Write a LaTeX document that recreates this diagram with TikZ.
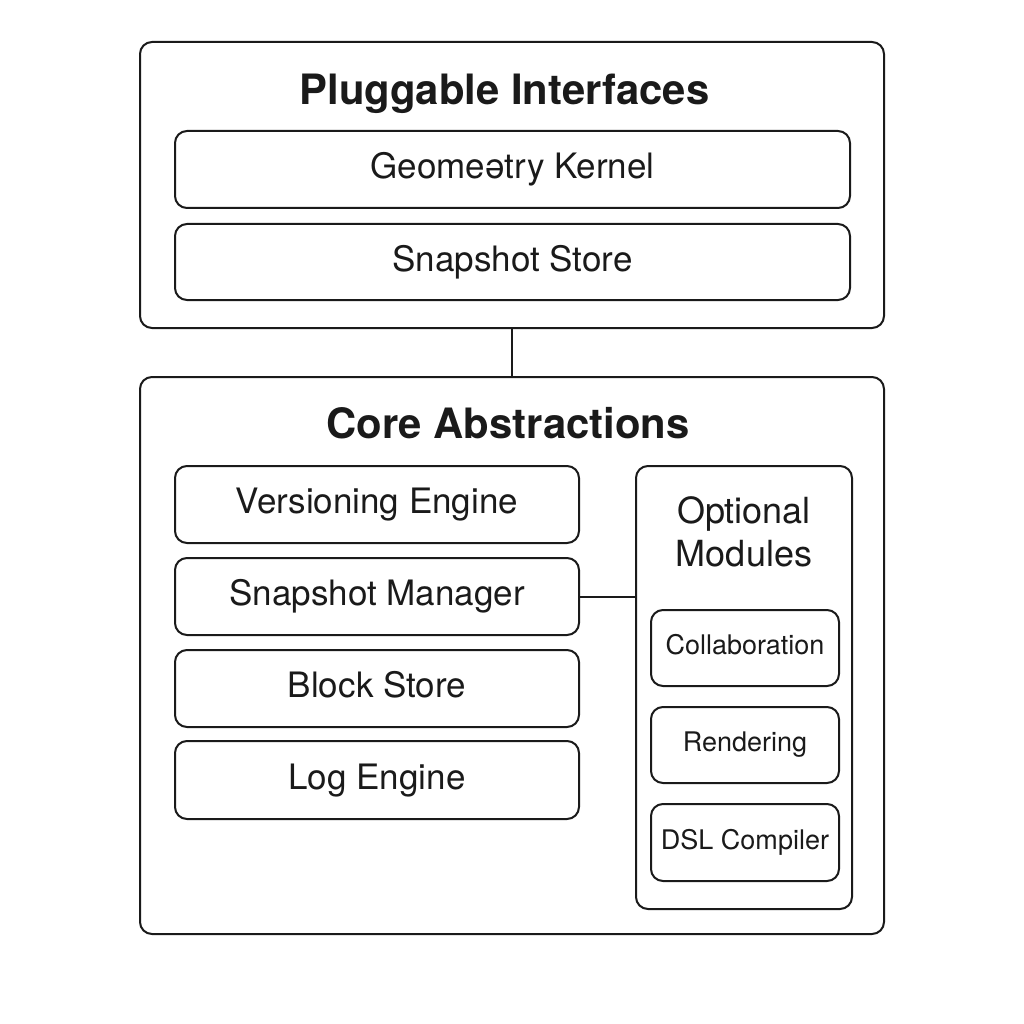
\documentclass[tikz,border=0pt]{standalone}
\usepackage{fontspec}
\setmainfont{TeX Gyre Heros}
\definecolor{ink}{HTML}{1A1A1A}

\begin{document}
\begin{tikzpicture}[x=1pt,y=-1pt,
    frame/.style={draw=ink,line width=2pt,rounded corners=12pt,inner sep=0pt},
    bigbox/.style={frame,minimum width=744pt},
    box/.style={frame,minimum height=77pt,text=ink,
      text height=25pt,text depth=7pt,font=\fontsize{35}{42}\selectfont},
    smallbox/.style={frame,minimum width=188pt,minimum height=76pt,text=ink,
      text height=19.5pt,text depth=5.7pt,font=\fontsize{27}{32}\selectfont},
    heading/.style={anchor=base,text=ink,font=\fontsize{41.8}{50}\selectfont\bfseries},
    wire/.style={draw=ink,line width=2pt}]
  % Page
  \fill[white] (0,0) rectangle (1024,1024);
  \useasboundingbox (0,0) rectangle (1024,1024);
  %
  % Pluggable interfaces
  \node[bigbox,minimum height=286pt] (pi) at (512,185) {};
  \node[heading] (pititle) at (504.5,105) {Pluggable Interfaces};
  \node[box,minimum width=675pt] (gk) at (512.5,169.5) {Geomeətry Kernel};
  \node[box,minimum width=675pt,minimum height=76pt] (ss) at (512.5,262) {Snapshot Store};
  %
  % Core abstractions
  \node[bigbox,minimum height=557pt] (core) at (512,655.5) {};
  \node[heading] (coretitle) at (508,438) {Core Abstractions};
  \node[box,minimum width=404pt] (ve) at (377,504.5) {Versioning Engine};
  \node[box,minimum width=404pt] (sm) at (377,596.5) {Snapshot Manager};
  \node[box,minimum width=404pt] (bs) at (377,688.5) {Block Store};
  \node[box,minimum width=404pt,minimum height=78pt] (le) at (377,780) {Log Engine};
  %
  % Optional modules
  \node[frame,minimum width=216pt,minimum height=443pt] (opt) at (744,687.5) {};
  \node[align=center,text=ink,font=\fontsize{36}{43}\selectfont] (opttitle) at (744,532) {Optional\\Modules};
  \node[smallbox] (co) at (745,648) {Collaboration};
  \node[smallbox] (re) at (745,745) {Rendering};
  \node[smallbox,minimum height=77pt] (dsl) at (745,842.5) {DSL Compiler};
  %
  % Links
  \draw[wire] (pi.south) -- (core.north);
  \draw[wire] (sm.east) -- (sm.east -| opt.west);
  %
\end{tikzpicture}
\end{document}
